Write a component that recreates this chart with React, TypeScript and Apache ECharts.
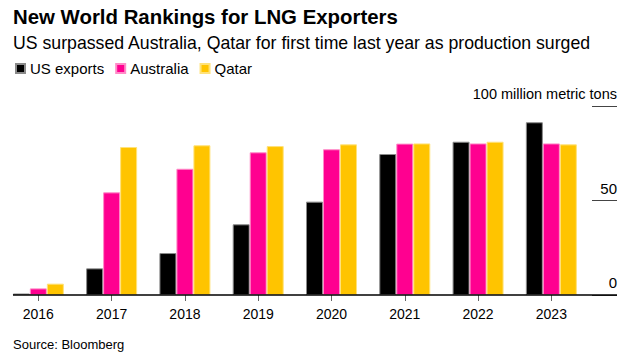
import React, { useEffect, useRef } from "react";
import * as echarts from "echarts";

const years = ["2016", "2017", "2018", "2019", "2020", "2021", "2022", "2023"];
const usExports = [0.8, 14.1, 22.2, 37.4, 49.4, 74.6, 81.1, 91.4];
const australia = [3.5, 54.3, 66.8, 75.5, 77.1, 80.1, 80.2, 80.2];
const qatar = [6.0, 78.3, 79.2, 78.8, 79.7, 80.2, 81.1, 79.7];
const yTicks = [0, 50, 100];
const unitLabel = "million metric tons";

const FONT = "'Liberation Sans', Arial, Helvetica, sans-serif";

export default function App() {
  const ref = useRef<HTMLDivElement>(null);
  useEffect(() => {
    if (!ref.current) return;
    const chart = echarts.init(ref.current, undefined, { renderer: "svg" });
    const mkSeries = (name: string, data: number[], color: string, border: string) => ({
      name,
      type: "bar",
      data,
      barWidth: 17,
      barGap: "0%",
      itemStyle: { color, borderColor: border, borderWidth: 1 },
      emphasis: { disabled: true },
    });
    chart.setOption({
      animation: false,
      textStyle: { fontFamily: FONT },
      legend: {
        left: 15,
        top: 61,
        padding: 0,
        icon: "rect",
        itemWidth: 9,
        itemHeight: 9,
        itemGap: 11,
        textStyle: { fontSize: 15, color: "#000", fontFamily: FONT },
        data: ["US exports", "Australia", "Qatar"],
      },
      grid: { left: 1.7, right: 43, top: 106, bottom: 63, containLabel: false },
      xAxis: {
        type: "category",
        data: years,
        axisLine: { show: false },
        axisTick: { show: true, alignWithLabel: true, length: 6, lineStyle: { color: "#666" } },
        axisLabel: { fontSize: 14, color: "#000", margin: 12, fontFamily: FONT },
      },
      yAxis: {
        type: "value",
        position: "right",
        offset: 29,
        min: yTicks[0],
        max: yTicks[yTicks.length - 1],
        interval: 50,
        splitLine: { show: false },
        axisLine: { show: false },
        axisTick: { show: true, inside: true, length: 25, lineStyle: { color: "#444" } },
        axisLabel: {
          inside: true,
          margin: 0,
          verticalAlign: "bottom",
          padding: [0, 0, 5, 0],
          fontSize: 15,
          color: "#000",
          fontFamily: FONT,
          formatter: (v: number) => (v === 100 ? `{u|${v} ${unitLabel}}` : `${v}`),
          rich: { u: { fontSize: 14.5, color: "#000", fontFamily: FONT } },
        },
      },
      series: [
        mkSeries("US exports", usExports, "#000000", "#8a8a8a"),
        mkSeries("Australia", australia, "#ff0090", "#ff8cc8"),
        mkSeries("Qatar", qatar, "#ffc400", "#ffe27a"),
      ],
      graphic: [
        {
          type: "text",
          x: 13,
          y: 16.5,
          style: {
            text: "New World Rankings for LNG Exporters",
            fontSize: 20.4,
            fontWeight: "bold",
            fontFamily: FONT,
            fill: "#000",
            verticalAlign: "middle",
          },
        },
        {
          type: "text",
          x: 13,
          y: 42.5,
          style: {
            text: "US surpassed Australia, Qatar for first time last year as production surged",
            fontSize: 17.7,
            fontFamily: FONT,
            fill: "#000",
            verticalAlign: "middle",
          },
        },
        {
          type: "line",
          shape: { x1: 13, y1: 295, x2: 617, y2: 295 },
          style: { stroke: "#000", lineWidth: 1.5 },
          z: 10,
        },
        {
          type: "text",
          x: 13,
          y: 344,
          style: {
            text: "Source: Bloomberg",
            fontSize: 13,
            fontFamily: FONT,
            fill: "#000",
            verticalAlign: "middle",
          },
        },
      ],
    });
    return () => chart.dispose();
  }, []);
  return (
    <div
      ref={ref}
      style={{ position: "fixed", left: 0, top: 0, width: 631, height: 358, background: "#fff" }}
    />
  );
}
